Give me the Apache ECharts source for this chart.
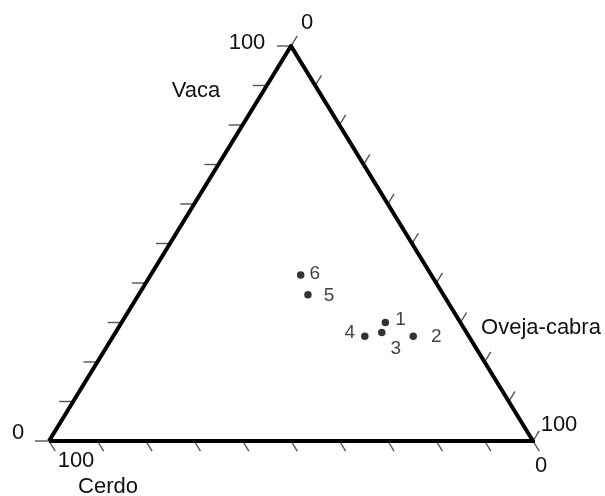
<!DOCTYPE html>
<html>
<head>
<meta charset="utf-8">
<script src="https://cdn.jsdelivr.net/npm/echarts@6/dist/echarts.min.js"></script>
<style>
  html, body { margin: 0; padding: 0; background: #fff; }
  #chart { width: 605px; height: 496px; }
</style>
</head>
<body>
<div id="chart"></div>
<script>
// Sample composition (%) of each sample: cattle, sheep-goat, pig
const samples = ['1', '2', '3', '4', '5', '6'];
const vaca = [30, 26.5, 27.5, 26.5, 37, 42];
const ovejaCabra = [54.5, 62, 55, 52, 35, 31];
const cerdo = [15.5, 11.5, 17.5, 21.5, 28, 27];

// Tick values along every side of the triangle
const tickValues = [0, 10, 20, 30, 40, 50, 60, 70, 80, 90, 100];

// Ternary -> cartesian (x: 0..100 along the base, y: 0..100 to the apex)
function toXY(v, o, c) {
  const s = v + o + c;
  const vn = v / s * 100, on = o / s * 100;
  return [on + vn / 2, vn];
}

// Corners: Vaca apex, Oveja-cabra right, Cerdo left
const apex = toXY(100, 0, 0);
const rightCorner = toXY(0, 100, 0);
const leftCorner = toXY(0, 0, 100);
const frame = [leftCorner, rightCorner, apex, leftCorner];

const pointData = samples.map((s, i) => toXY(vaca[i], ovejaCabra[i], cerdo[i]).concat([s]));

// Label placement for each numbered dot
const labelCfg = {
  '1': { position: 'right', distance: 6, offset: [0, -3] },
  '2': { position: 'right', distance: 14, offset: [0, 0] },
  '3': { position: 'right', distance: 5, offset: [0, 16] },
  '4': { position: 'left', distance: 6, offset: [0, -4] },
  '5': { position: 'right', distance: 12, offset: [0, 1] },
  '6': { position: 'right', distance: 5, offset: [0, -1] }
};

// Tick records: [side, value]; side 0 = Vaca (left), 1 = Oveja-cabra (right), 2 = Cerdo (base)
const tickData = [];
[0, 1, 2].forEach(side => tickValues.forEach(v => tickData.push([side, v])));

function tickRender(params, api) {
  const side = api.value(0), val = api.value(1);
  let p, dir, len;
  const A = api.coord(apex), B = api.coord(leftCorner), C = api.coord(rightCorner);
  function unit(a, b) {
    const dx = b[0] - a[0], dy = b[1] - a[1];
    const l = Math.sqrt(dx * dx + dy * dy);
    return [dx / l, dy / l];
  }
  if (side === 0) {
    p = api.coord(toXY(val, 0, 100 - val));
    dir = [-1, 0]; len = 14;
  } else if (side === 1) {
    p = api.coord(toXY(100 - val, val, 0));
    dir = unit(B, A); len = 12;
  } else {
    p = api.coord(toXY(0, 100 - val, val));
    dir = unit(A, C); len = 12;
  }
  return {
    type: 'line',
    shape: { x1: p[0], y1: p[1], x2: p[0] + dir[0] * len, y2: p[1] + dir[1] * len },
    style: { stroke: '#555', lineWidth: 1.4 }
  };
}

const textStyle = { fontFamily: 'Liberation Sans, Arial, sans-serif', fontSize: 22, fill: '#111' };
function txt(str, x, y) {
  return {
    type: 'text', x: x, y: y,
    style: Object.assign({ text: str, align: 'center', verticalAlign: 'middle' }, textStyle)
  };
}

const chart = echarts.init(document.getElementById('chart'), null, { renderer: 'canvas' });
chart.setOption({
  animation: false,
  backgroundColor: '#fff',
  grid: { left: 49, right: 72, top: 46, bottom: 55 },
  xAxis: { type: 'value', min: 0, max: 100, show: false },
  yAxis: { type: 'value', min: 0, max: 100, show: false },
  graphic: [
    txt('100', 247, 43),
    txt('0', 307, 23),
    txt('Vaca', 196, 91),
    txt('0', 18, 433),
    txt('100', 76, 461),
    txt('Cerdo', 108, 487),
    txt('Oveja-cabra', 541, 328),
    txt('100', 559, 425),
    txt('0', 541, 466)
  ],
  series: [
    {
      type: 'custom',
      renderItem: tickRender,
      data: tickData,
      silent: true,
      z: 1
    },
    {
      type: 'line',
      data: frame,
      symbol: 'none',
      lineStyle: { color: '#000', width: 4, join: 'miter' },
      silent: true,
      z: 2
    },
    {
      type: 'scatter',
      data: pointData.map(d => ({
        value: d,
        label: Object.assign({ show: true, formatter: d[2] }, labelCfg[d[2]])
      })),
      symbol: 'circle',
      symbolSize: 7.5,
      itemStyle: { color: '#000' },
      label: {
        color: '#111',
        fontSize: 19,
        fontFamily: 'Liberation Sans, Arial, sans-serif'
      },
      z: 3
    }
  ]
});
</script>
</body>
</html>
